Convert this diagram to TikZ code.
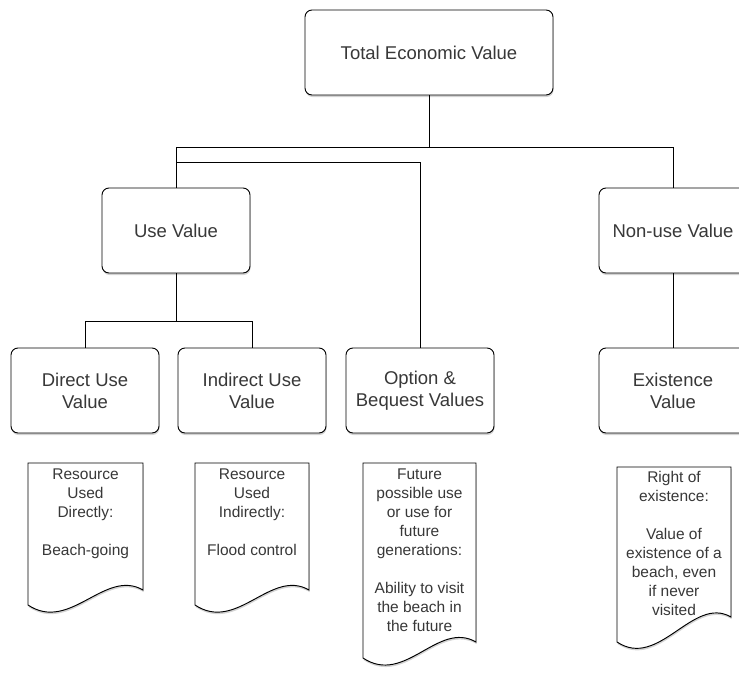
\documentclass[tikz,border=0pt]{standalone}
\usepackage{fontspec}
\setmainfont{Liberation Sans}
\usepackage{tikz}
\usetikzlibrary{shadows}
\usetikzlibrary{calc}
\definecolor{txtgray}{gray}{0.22}
% page shape with a wavy bottom edge: left, top, right, right foot, left foot
\newcommand{\docpage}[5]{%
  \draw [docline] (#1,#2) -- (#3,#2) -- (#3,#4)
    .. controls (#3-38,#4-22) and (#1+42,#5+28) .. (#1,#5) -- cycle;}

\begin{document}
\begin{tikzpicture}[x=1pt, y=-1pt, line width=0.95pt,
    valbox/.style={draw=black, fill=white, rounded corners=7pt,
      minimum width=148pt, minimum height=85pt, align=center, text=txtgray,
      font=\fontsize{18.5}{22}\selectfont,
      drop shadow={shadow xshift=0.5pt, shadow yshift=-2pt, opacity=0.35}},
    docline/.style={draw=black, fill=white,
      drop shadow={shadow xshift=0.5pt, shadow yshift=-2pt, opacity=0.35}},
    doctext/.style={anchor=north, align=center, inner sep=0pt, text=txtgray,
      font=\fontsize{15.5}{19}\selectfont}]
  \useasboundingbox (0,0) rectangle (739,673);

  \node [valbox, minimum width=248pt, name=tev] at (429,52.5) {Total Economic Value};
  \node [valbox, name=use] at (176,230.5) {Use Value};
  \node [valbox, name=nonuse] at (673,230.5) {Non-use Value};
  \node [valbox, name=direct] at (85,390.5) {Direct Use\\Value};
  \node [valbox, name=indirect] at (252,390.5) {Indirect Use\\Value};
  \node [valbox, name=option] at (420,390.5) {Option \&\\Bequest Values};
  \node [valbox, name=exist] at (673,390.5) {Existence\\Value};

  \coordinate (bus) at (0,147);
  \coordinate (bus2) at (0,162);
  \coordinate (bus3) at (0,321);

  \draw (tev.south) -- (tev.south |- bus);
  \draw (use.north) |- (nonuse.north |- bus) -- (nonuse.north);
  \draw (use.north |- bus2) -| (option.north);
  \draw (use.south) -- (use.south |- bus3);
  \draw (direct.north) |- (indirect.north |- bus3) -- (indirect.north);
  \draw (nonuse.south) -- (exist.north);

  % the pages below
  \docpage{28}{463}{143}{590}{605}
  \docpage{195}{463}{309}{590}{605}
  \docpage{363}{463}{476}{642}{658}
  \docpage{617}{467}{731}{617}{642}

  \node [doctext, name=d1] at (85.5,468) {Resource\\Used\\Directly:\\[19pt]Beach-going};
  \node [doctext, name=d2] at (252,468) {Resource\\Used\\Indirectly:\\[19pt]Flood control};
  \node [doctext, name=d3] at (419.5,468) {Future\\possible use\\or use for\\future\\generations:\\[19pt]Ability to visit\\the beach in\\the future};
  \node [doctext, name=d4] at (674,471) {Right of\\existence:\\[19pt]Value of\\existence of a\\beach, even\\if never\\visited};
\end{tikzpicture}
\end{document}
